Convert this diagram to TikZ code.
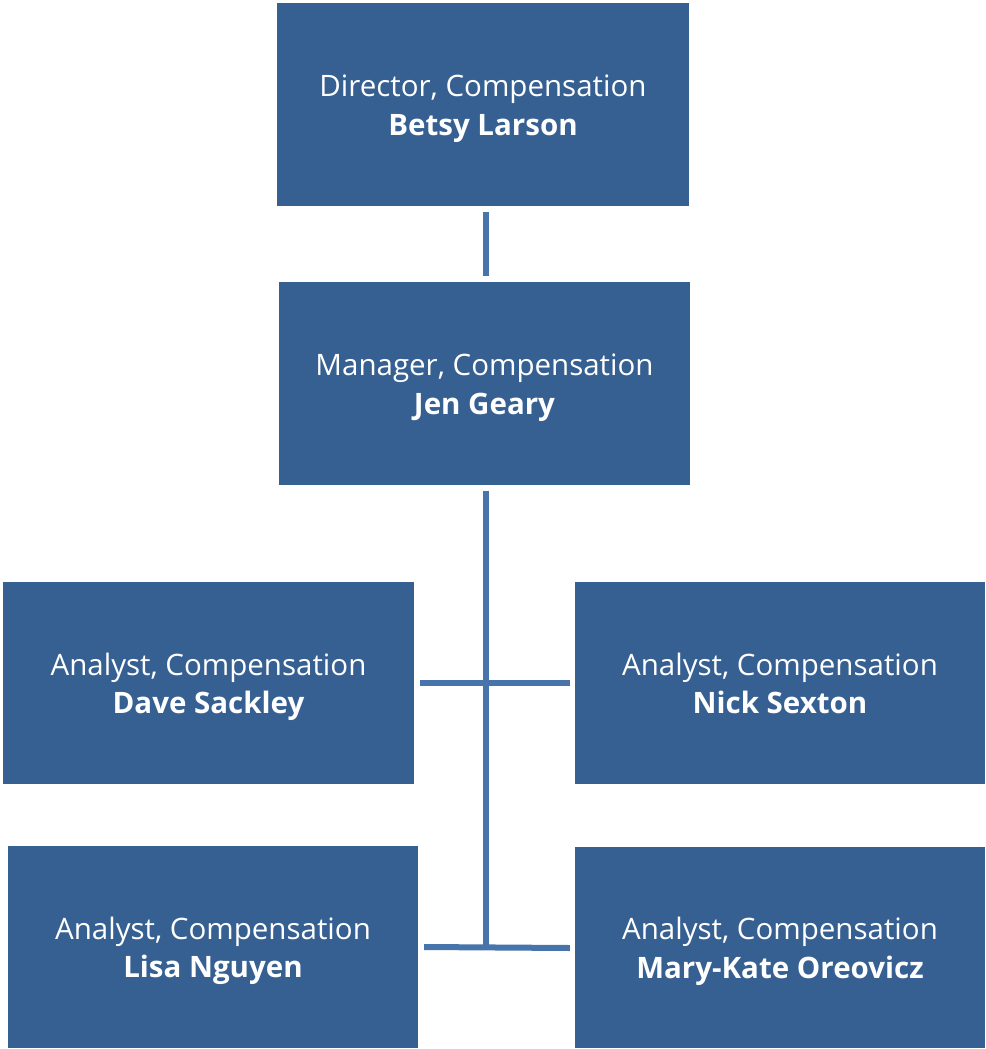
\documentclass[tikz,border=0pt]{standalone}
\usepackage{fontspec}
\setmainfont{Open Sans}
\definecolor{boxblue}{HTML}{376092}
\definecolor{lineblue}{HTML}{4874AC}
\begin{document}
\begin{tikzpicture}[x=1pt,y=-1pt,
  orgbox/.style={rectangle, fill=boxblue, inner sep=0pt},
  lbl/.style={text=white, align=center, inner sep=0pt, yshift=-4pt,
    font=\fontsize{29.5}{38.5}\selectfont},
  conn/.style={draw=lineblue, line width=6pt}]
\useasboundingbox (0,0) rectangle (985,1049);
\node[orgbox, minimum width=412pt, minimum height=203pt, label={[lbl]center:{Director, Compensation\\\textbf{Betsy Larson}}}] (dir) at (483,104.5) {};
\node[orgbox, minimum width=411pt, minimum height=203pt, label={[lbl]center:{Manager, Compensation\\\textbf{Jen Geary}}}] (mgr) at (484.5,383.5) {};
\node[orgbox, minimum width=411pt, minimum height=202pt, label={[lbl]center:{Analyst, Compensation\\\textbf{Dave Sackley}}}] (dave) at (208.5,683) {};
\node[orgbox, minimum width=410pt, minimum height=202pt, label={[lbl]center:{Analyst, Compensation\\\textbf{Nick Sexton}\vphantom{y}}}] (nick) at (780,683) {};
\node[orgbox, minimum width=410pt, minimum height=202pt, label={[lbl]center:{Analyst, Compensation\\\textbf{Lisa Nguyen}}}] (lisa) at (213,947) {};
\node[orgbox, minimum width=410pt, minimum height=201pt, label={[lbl]center:{Analyst, Compensation\\\textbf{Mary-Kate Oreovicz}}}] (mary) at (780,947.5) {};
\coordinate (j2) at (485.5,947);
\draw[conn] ([xshift=2.5pt,yshift=-5.5pt]dir.south) -- ([xshift=1pt,yshift=5.5pt]mgr.north);
\draw[conn] ([xshift=1pt,yshift=-5.5pt]mgr.south) -- ([yshift=-3pt]j2);
\draw[conn] ([xshift=6pt]dave.east) -- ([xshift=-5pt]nick.west);
\draw[conn] ([xshift=6pt]lisa.east) -- ([xshift=-5pt,yshift=-0.5pt]mary.west);
\end{tikzpicture}
\end{document}
